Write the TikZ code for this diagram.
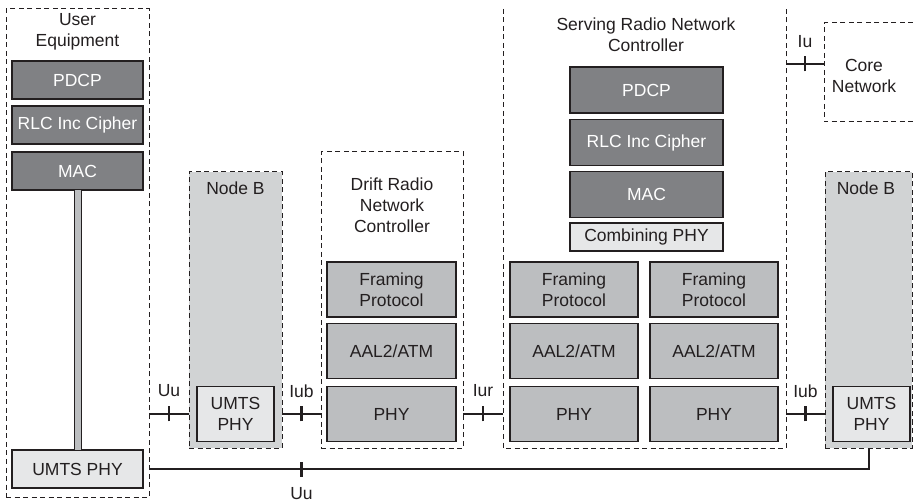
\documentclass[tikz,border=0pt]{standalone}
\usepackage{fontspec}
\setmainfont{Liberation Sans}
\definecolor{edge}{HTML}{231F20}
\definecolor{txt}{HTML}{231F20}
\definecolor{darkfill}{HTML}{808184}
\definecolor{medfill}{HTML}{BCBEC0}
\definecolor{lightfill}{HTML}{E6E7E8}
\definecolor{nbfill}{HTML}{D1D3D4}
\begin{document}
\begin{tikzpicture}[x=1pt,y=-1pt,
  every node/.style={font=\fontsize{17.5}{21}\selectfont, text=txt, inner sep=0pt, outer sep=0pt, align=center},
  box/.style={draw=edge, line width=1.3pt},
  darkbox/.style={box, fill=darkfill, text=white},
  medbox/.style={box, fill=medfill},
  lightbox/.style={box, fill=lightfill},
  dashline/.style={draw=edge, line width=1pt, dash pattern=on 5pt off 3.5pt},
  dashbox/.style={dashline},
  nbbox/.style={dashline, fill=nbfill},
  conn/.style={draw=edge, line width=2pt},
  tickline/.style={draw=edge, line width=2.5pt},
  barstyle/.style={draw=edge, line width=1pt, fill=medfill},
  lbl/.style={}]
\useasboundingbox (0,0) rectangle (913,502);

% User Equipment
\node[dashbox, minimum width=143pt, minimum height=488pt] (ue) at (77.5,253) {};
\node[lbl] (uelbl) at (77.5,32) {User\\Equipment};
\node[darkbox, minimum width=131pt, minimum height=38pt] (uepdcp) at (77.5,80) {PDCP};
\node[darkbox, minimum width=131pt, minimum height=38pt] (uerlc) at (77.5,125) {RLC Inc Cipher};
\node[darkbox, minimum width=131pt, minimum height=38pt] (uemac) at (77.5,171) {MAC};
\node[lightbox, minimum width=131pt, minimum height=38pt] (uephy) at (77.5,469) {UMTS PHY};
\draw[barstyle] ([xshift=-3.5pt]uemac.south) rectangle ([xshift=3.5pt]uephy.north);

% Node B (left)
\node[nbbox, minimum width=93pt, minimum height=276pt] (nb1) at (235.5,310) {};
\node[lbl] (nb1lbl) at (235.5,188) {Node B};
\node[lightbox, minimum width=77pt, minimum height=55pt] (nb1phy) at (235.5,414) {UMTS\\PHY};

% Drift RNC
\node[dashbox, minimum width=142pt, minimum height=296pt] (drnc) at (392,300) {};
\node[lbl] (drnclbl) at (392,205.5) {Drift Radio\\Network\\Controller};
\node[medbox, minimum width=129pt, minimum height=55pt] (dfp) at (391.5,289.5) {Framing\\Protocol};
\node[medbox, minimum width=129pt, minimum height=55pt] (daal) at (391.5,351) {AAL2/ATM};
\node[medbox, minimum width=129pt, minimum height=55pt] (dphy) at (391.5,414) {PHY};

% Serving RNC
\node[minimum width=283pt, minimum height=439pt] (srnc) at (644.5,228.5) {};
\draw[dashline] (srnc.north west) -- (srnc.south west) -- (srnc.south east) -- (srnc.north east);
\node[lbl] (srnclbl) at (646,35) {Serving Radio Network\\Controller};
\node[darkbox, minimum width=153pt, minimum height=46pt] (spdcp) at (646.5,90) {PDCP};
\node[darkbox, minimum width=153pt, minimum height=46pt] (srlc) at (646.5,142.5) {RLC Inc Cipher};
\node[darkbox, minimum width=153pt, minimum height=46pt] (smac) at (646.5,194.5) {MAC};
\node[lightbox, minimum width=153pt, minimum height=28pt] (scomb) at (646.5,237) {Combining PHY};
\node[medbox, minimum width=128pt, minimum height=55pt] (sfp1) at (574,289.5) {Framing\\Protocol};
\node[medbox, minimum width=128pt, minimum height=55pt] (saal1) at (574,351) {AAL2/ATM};
\node[medbox, minimum width=128pt, minimum height=55pt] (sphy1) at (574,414) {PHY};
\node[medbox, minimum width=128pt, minimum height=55pt] (sfp2) at (714,289.5) {Framing\\Protocol};
\node[medbox, minimum width=128pt, minimum height=55pt] (saal2) at (714,351) {AAL2/ATM};
\node[medbox, minimum width=128pt, minimum height=55pt] (sphy2) at (714,414) {PHY};

% Node B (right)
\node[nbbox, minimum width=87pt, minimum height=276pt] (nb2) at (868.5,310) {};
\node[lbl] (nb2lbl) at (866,188) {Node B};
\node[lightbox, minimum width=77pt, minimum height=55pt] (nb2phy) at (871.5,414) {UMTS\\PHY};

% Core Network
\node[minimum width=89pt, minimum height=99pt] (core) at (868.5,72.5) {};
\draw[dashline] (core.north east) -- (core.north west) -- (core.south west) -- (core.south east);
\node[lbl] (corelbl) at (864,76) {Core\\Network};

% Connectors
\draw[conn] (ue.east |- nb1phy) -- coordinate[pos=0.5] (tUu) (nb1.west |- nb1phy);
\draw[conn] (nb1.east |- nb1phy) -- coordinate[pos=0.5] (tIub1) (drnc.west |- nb1phy);
\draw[conn] (drnc.east |- dphy) -- coordinate[pos=0.5] (tIur) (srnc.west |- dphy);
\draw[conn] (srnc.east |- sphy2) -- coordinate[pos=0.5] (tIub2) (nb2.west |- sphy2);
\coordinate (iuy) at ([yshift=8.5pt]core.west);
\draw[conn] (srnc.east |- iuy) -- coordinate[pos=0.5] (tIu) (iuy);
\coordinate (bend) at (nb2.south |- uephy);
\draw[conn] (ue.east |- uephy) -- (bend) -- (nb2.south);
\coordinate (tUu2) at (tIub1 |- uephy);

% ticks
\foreach \t in {tUu,tIub1,tIur,tIub2,tIu,tUu2}
  \draw[tickline] ([yshift=-7.5pt]\t) -- ([yshift=7.5pt]\t);

% interface labels
\node[lbl] (lUu) at ([yshift=23pt]tUu) {Uu};
\node[lbl] (lIub1) at ([yshift=23pt]tIub1) {Iub};
\node[lbl] (lIur) at ([yshift=23pt]tIur) {Iur};
\node[lbl] (lIub2) at ([yshift=23pt]tIub2) {Iub};
\node[lbl] (lIu) at ([yshift=22pt]tIu) {Iu};
\node[lbl] (lUu2) at ([yshift=-25pt]tUu2) {Uu};
\end{tikzpicture}
\end{document}
